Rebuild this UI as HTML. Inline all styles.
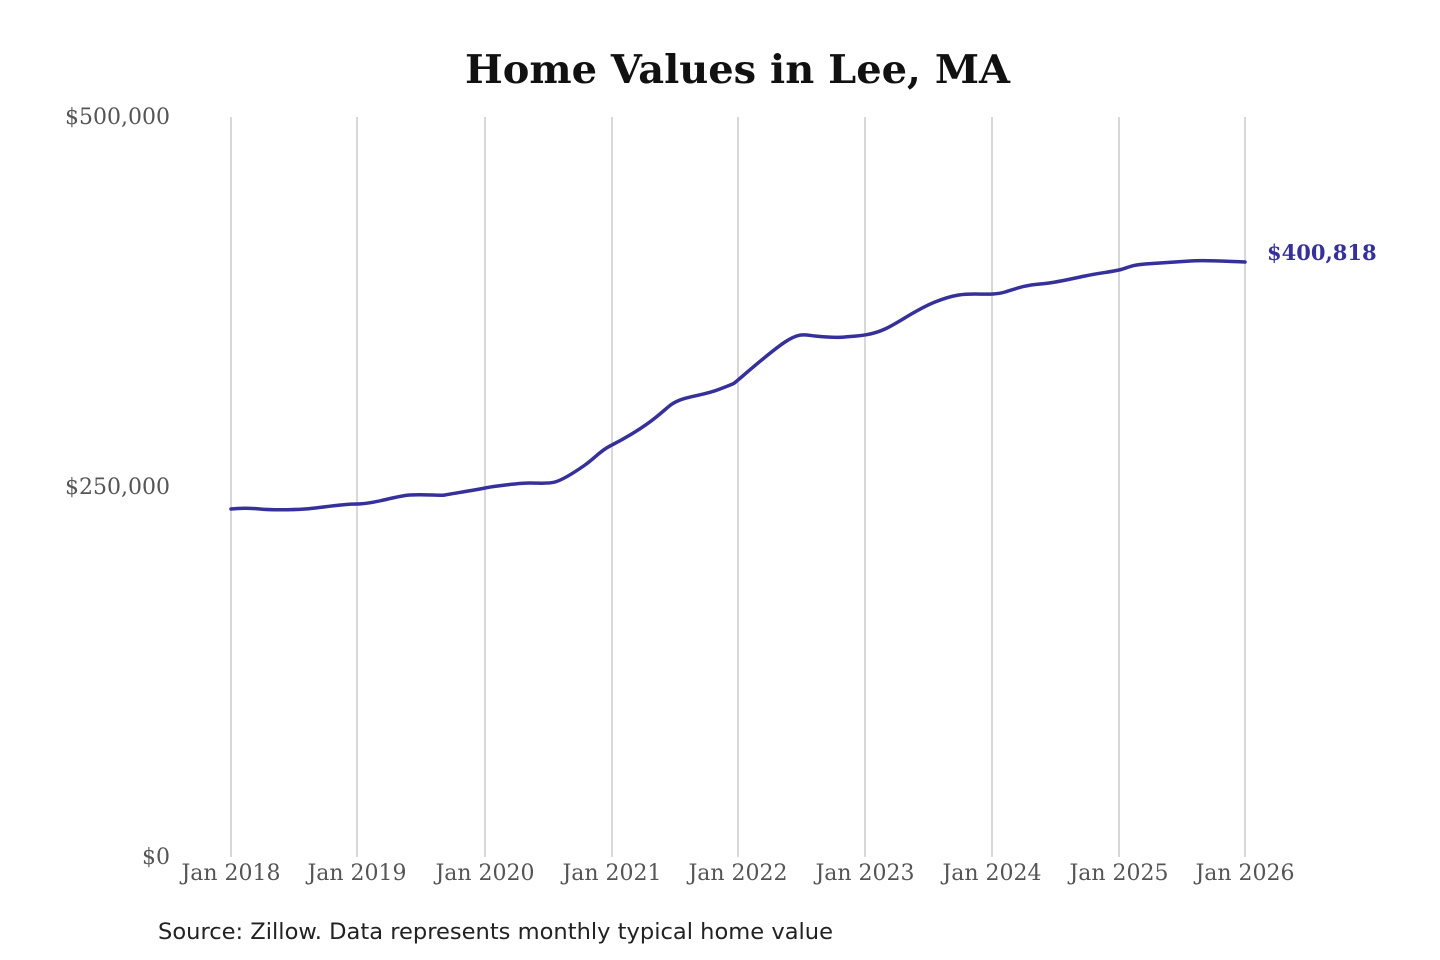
<!DOCTYPE html>
<html><head><meta charset="utf-8"><style>
body{margin:0;background:#fff;}
svg{display:block}
</style></head><body>
<svg width="1440" height="960" xmlns="http://www.w3.org/2000/svg">
<text x="465" y="83" textLength="545" lengthAdjust="spacingAndGlyphs" font-family="DejaVu Serif, Liberation Serif, serif" font-weight="bold" font-size="39" fill="#111">Home Values in Lee, MA</text>
<g stroke="#bdbdbd" stroke-width="1.2">
<line x1="231" y1="117" x2="231" y2="857"/>
<line x1="357" y1="117" x2="357" y2="857"/>
<line x1="485" y1="117" x2="485" y2="857"/>
<line x1="612" y1="117" x2="612" y2="857"/>
<line x1="738" y1="117" x2="738" y2="857"/>
<line x1="865" y1="117" x2="865" y2="857"/>
<line x1="992" y1="117" x2="992" y2="857"/>
<line x1="1119" y1="117" x2="1119" y2="857"/>
<line x1="1245" y1="117" x2="1245" y2="857"/>
</g>
<g font-family="DejaVu Serif, Liberation Serif, serif" font-size="22" fill="#555">
<text x="170" y="124" text-anchor="end">$500,000</text>
<text x="170" y="494" text-anchor="end">$250,000</text>
<text x="170" y="864" text-anchor="end">$0</text>
<g text-anchor="middle">
<text x="231" y="880">Jan 2018</text>
<text x="357" y="880">Jan 2019</text>
<text x="485" y="880">Jan 2020</text>
<text x="612" y="880">Jan 2021</text>
<text x="738" y="880">Jan 2022</text>
<text x="865" y="880">Jan 2023</text>
<text x="992" y="880">Jan 2024</text>
<text x="1119" y="880">Jan 2025</text>
<text x="1245" y="880">Jan 2026</text>
</g></g>
<path fill="none" stroke="#36309a" stroke-width="3.5" stroke-linejoin="round" stroke-linecap="round" d="M231,509 C240,508 250,508 260,509 S290,510 305,509 S340,504 357,504 S395,496 410,495 S440,496 445,495 S475,490 485,488 S520,483 530,483 S548,484 555,482 S575,472 585,465 S600,451 610,446 S640,430 655,418 S670,404 680,400 S705,395 720,389 S732,385 738,380 S770,352 785,342 S805,335 815,336 S835,338 845,337 S870,336 885,329 S915,310 935,302 S965,294 975,294 S995,295 1005,292 S1025,285 1040,284 S1070,279 1085,276 S1110,272 1119,270 S1130,265 1145,264 S1175,262 1190,261 S1220,261 1245,262"/>
<text x="1267" y="260" font-family="DejaVu Serif, Liberation Serif, serif" font-weight="bold" font-size="21" fill="#36309a">$400,818</text>
<text x="158" y="939" textLength="675" lengthAdjust="spacingAndGlyphs" font-family="DejaVu Sans, Liberation Sans, sans-serif" font-size="22" fill="#222">Source: Zillow. Data represents monthly typical home value</text>
</svg>
</body></html>
